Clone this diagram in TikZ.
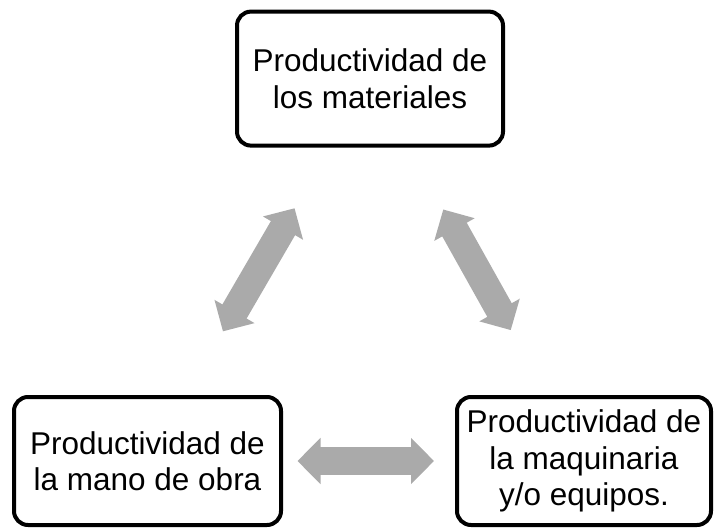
\documentclass[tikz,border=0pt]{standalone}
\usepackage{fontspec}
\setmainfont{Liberation Sans}
\usepackage{tikz}
\usetikzlibrary{arrows.meta}
\definecolor{arrowgray}{RGB}{170,170,170}
\tikzset{
  factor/.style={draw, line width=4pt, rounded corners=14pt, align=center, inner sep=0pt,
    font=\fontsize{31.5pt}{36.5pt}\selectfont},
  dblarrow/.style={arrowgray, line width=28pt, shorten >=150pt, shorten <=150pt,
    {Triangle[width=45pt,length=23pt]}-{Triangle[width=45pt,length=23pt]}}
}
\begin{document}
\begin{tikzpicture}[x=1pt, y=-1pt]
  \useasboundingbox (0,0) rectangle (715,529);
  \node[factor, minimum width=266pt, minimum height=134pt] (materiales) at (370,78.6)
    {Productividad de\\los materiales};
  \node[factor, minimum width=267pt, minimum height=128pt] (mano) at (147.5,461)
    {Productividad de\\la mano de obra};
  \node[factor, minimum width=254pt, minimum height=128pt] (maquinaria) at (584,461)
    {Productividad de\\la maquinaria\\y/o equipos.};
  \draw[dblarrow] (materiales.center) -- (mano.center);
  \draw[dblarrow] (materiales.center) -- (maquinaria.center);
  \draw[dblarrow] (mano.center) -- (maquinaria.center);
\end{tikzpicture}
\end{document}
